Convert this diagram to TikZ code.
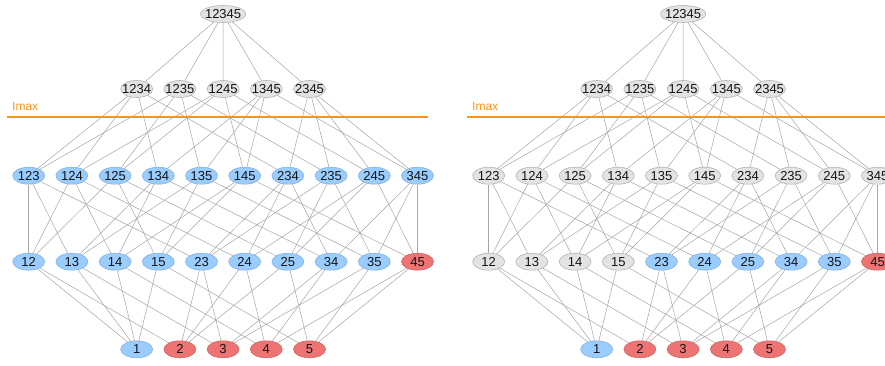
\documentclass[tikz,border=0pt]{standalone}
\usepackage{fontspec}
\setmainfont{Liberation Sans}
\usetikzlibrary{shapes.geometric}
\definecolor{gfill}{HTML}{E3E3E3}
\definecolor{gline}{HTML}{B4B4B4}
\definecolor{bfill}{HTML}{99CCFF}
\definecolor{bline}{HTML}{86B2DC}
\definecolor{rfill}{HTML}{EE7373}
\definecolor{rline}{HTML}{CC6666}
\definecolor{edgec}{HTML}{A6A6A6}
\definecolor{imaxc}{HTML}{FF9414}
\newcommand\nl[1]{\makebox[0pt]{#1}}
\tikzset{
  setnode/.style={ellipse, inner sep=0pt, minimum width=32pt, minimum height=17pt,
    font=\fontsize{13}{13}\selectfont, text=black!92, line width=0.6pt},
  gnode/.style={setnode, draw=gline, fill=gfill},
  bnode/.style={setnode, draw=bline, fill=bfill},
  rnode/.style={setnode, draw=rline, fill=rfill},
  topnode/.style={gnode, minimum width=45pt},
  edge/.style={draw=edgec, line width=0.5pt},
  imaxline/.style={draw=imaxc, line width=1.6pt},
  imaxtext/.style={text=imaxc, font=\fontsize{12}{12}\selectfont, inner sep=0pt, anchor=base west}
}
\newcommand\drawpanel[4]{%
  \begin{scope}[xshift=#2pt]
    \node[topnode] (#1-12345) at (223.1,351) {\nl{12345}};
    \foreach \n [count=\i from 0] in {1234,1235,1245,1345,2345}
      \node[gnode] (#1-\n) at ({28.7+43.2*(2.5+\i)},276) {\nl{\n}};
    \foreach \n [count=\i from 0] in {123,124,125,134,135,145,234,235,245,345}
      \node[#3] (#1-\n) at ({28.7+43.2*\i},189.3) {\nl{\n}};
    \foreach \n [count=\i from 0] in {12,13,14,15}
      \node[#4] (#1-\n) at ({28.7+43.2*\i},103.3) {\nl{\n}};
    \foreach \n [count=\i from 4] in {23,24,25,34,35}
      \node[bnode] (#1-\n) at ({28.7+43.2*\i},103.3) {\nl{\n}};
    \node[rnode] (#1-45) at ({28.7+43.2*9},103.3) {\nl{45}};
    \node[bnode] (#1-1) at ({28.7+43.2*2.5},15.7) {\nl{1}};
    \foreach \n [count=\i from 1] in {2,3,4,5}
      \node[rnode] (#1-\n) at ({28.7+43.2*(2.5+\i)},15.7) {\nl{\n}};
    % edges
    \foreach \b in {1234,1235,1245,1345,2345}
      \draw[edge] (#1-12345) -- (#1-\b);
    \foreach \a/\bs in {1234/{123,124,134,234},1235/{123,125,135,235},1245/{124,125,145,245},
                        1345/{134,135,145,345},2345/{234,235,245,345}}
      \foreach \b in \bs \draw[edge] (#1-\a) -- (#1-\b);
    \foreach \a/\bs in {123/{12,13,23},124/{12,14,24},125/{12,15,25},134/{13,14,34},135/{13,15,35},
                        145/{14,15,45},234/{23,24,34},235/{23,25,35},245/{24,25,45},345/{34,35,45}}
      \foreach \b in \bs \draw[edge] (#1-\a) -- (#1-\b);
    \foreach \a/\x/\y in {12/1/2,13/1/3,14/1/4,15/1/5,23/2/3,24/2/4,25/2/5,34/3/4,35/3/5,45/4/5}
      {\draw[edge] (#1-\a) -- (#1-\x); \draw[edge] (#1-\a) -- (#1-\y);}
    % Imax
    \coordinate (#1-ia) at (7,248.3);
    \coordinate (#1-ib) at (428,248.3);
    \draw[imaxline] (#1-ia) -- (#1-ib);
    \node[imaxtext] (#1-imax) at (12,254.5) {Imax};
  \end{scope}}
\begin{document}
\begin{tikzpicture}[x=1pt,y=1pt]
  \useasboundingbox (0,0) rectangle (885,365);
  \clip (0,0) rectangle (885,365);
  \fill[white] (0,0) rectangle (885,365);
  \drawpanel{L}{0}{bnode}{bnode}
  \drawpanel{R}{460}{gnode}{gnode}
\end{tikzpicture}
\end{document}
